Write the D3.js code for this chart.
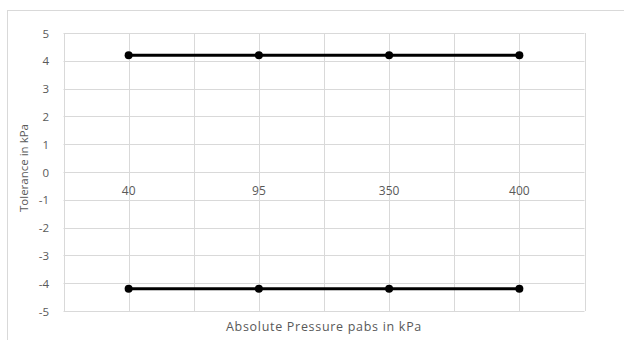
<!DOCTYPE html>
<html><head><meta charset="utf-8">
<script src="https://cdn.jsdelivr.net/npm/d3@7"></script>
<style>body{margin:0;background:#fff}svg{display:block}</style>
</head><body>
<script>
const categories = ["40", "95", "350", "400"];
const upperTolerance = [4.2, 4.2, 4.2, 4.2];
const lowerTolerance = [-4.2, -4.2, -4.2, -4.2];
const yTicks = [5, 4, 3, 2, 1, 0, -1, -2, -3, -4, -5];
const yTitle = "Tolerance in kPa";
const xTitle = "Absolute Pressure pabs in kPa";

const W = 624, H = 340;
const m = {left: 63.5, right: 584.5, top: 33, bottom: 311};
const font = "'Open Sans', 'Noto Sans', sans-serif";
const textColor = "#595959";
const gridColor = "#d9d9d9";

const svg = d3.select("body").append("svg").attr("width", W).attr("height", H);
svg.append("rect").attr("width", W).attr("height", H).attr("fill", "#fff");
svg.append("rect").attr("x", 7.5).attr("y", 10.5).attr("width", 800).attr("height", 500)
  .attr("fill", "none").attr("stroke", gridColor);

const x = d3.scaleBand().domain(categories).range([m.left, m.right]);
const y = d3.scaleLinear().domain([-5, 5]).range([m.bottom, m.top]);

// horizontal gridlines
svg.append("g").selectAll("line").data(yTicks).join("line")
  .attr("x1", m.left).attr("x2", m.right)
  .attr("y1", d => Math.round(y(d)) + 0.5).attr("y2", d => Math.round(y(d)) + 0.5)
  .attr("stroke", gridColor).attr("stroke-width", 1);

// vertical gridlines at category boundaries and centers
const vx = [];
categories.forEach(c => { vx.push(x(c)); vx.push(x(c) + x.bandwidth() / 2); });
vx.push(m.right);
svg.append("g").selectAll("line").data(vx).join("line")
  .attr("x1", d => Math.round(d) + 0.5).attr("x2", d => Math.round(d) + 0.5)
  .attr("y1", m.top).attr("y2", m.bottom)
  .attr("stroke", gridColor).attr("stroke-width", 1);

// y axis labels
const yAxis = d3.axisLeft(y).tickValues(yTicks).tickSize(0).tickPadding(0).tickFormat(d => String(d));
const ya = svg.append("g").attr("transform", `translate(49,0)`).call(yAxis);
ya.select(".domain").remove();
ya.selectAll("text").attr("fill", textColor).attr("font-family", font).attr("font-size", "11.5px")
  .attr("dy", "0.35em");

// category labels near zero
const xAxis = d3.axisBottom(x).tickSize(0).tickPadding(0);
const xa = svg.append("g").attr("transform", `translate(0,${y(0) + 18.5})`).call(xAxis);
xa.select(".domain").remove();
xa.selectAll("text").attr("fill", textColor).attr("font-family", font).attr("font-size", "12px")
  .attr("dy", "0.35em").attr("y", 0);

const cx = d => x(d) + x.bandwidth() / 2;
const line = d3.line().x((d, i) => cx(categories[i])).y(d => y(d));

[upperTolerance, lowerTolerance].forEach(series => {
  svg.append("path").datum(series).attr("d", line)
    .attr("fill", "none").attr("stroke", "#000").attr("stroke-width", 3);
  svg.append("g").selectAll("circle").data(series).join("circle")
    .attr("cx", (d, i) => cx(categories[i])).attr("cy", d => y(d)).attr("r", 4)
    .attr("fill", "#000");
});

svg.append("text").attr("transform", `translate(23,168) rotate(-90)`)
  .attr("text-anchor", "middle").attr("dominant-baseline", "central")
  .attr("fill", textColor).attr("font-family", font).attr("font-size", "11.5px").text(yTitle);

svg.append("text").attr("x", (m.left + m.right) / 2).attr("y", 326)
  .attr("text-anchor", "middle").attr("dominant-baseline", "central")
  .attr("letter-spacing", "0.7px")
  .attr("fill", textColor).attr("font-family", font).attr("font-size", "12.5px").text(xTitle);
</script>
</body></html>
